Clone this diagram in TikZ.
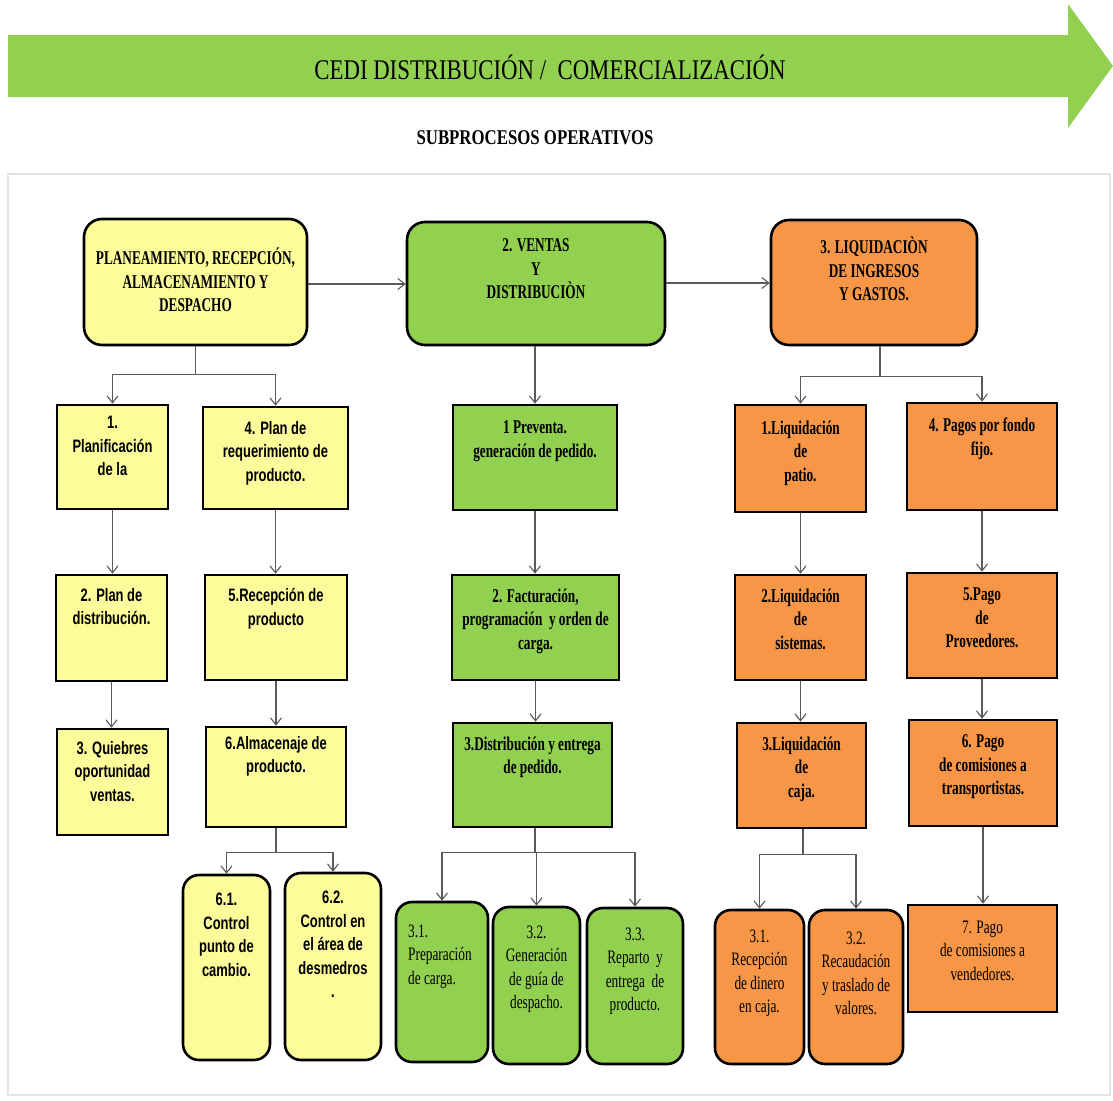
\documentclass[tikz,border=0pt]{standalone}
\usepackage{fontspec}
\usetikzlibrary{arrows.meta}
\setmainfont{Liberation Serif}
\newfontfamily\condserif[FakeStretch=0.68]{Liberation Serif}
\newfontfamily\plainserif[FakeStretch=0.7]{Liberation Serif}
\newfontfamily\titleserif[FakeStretch=0.8]{Liberation Serif}
\newfontfamily\condsans[FakeStretch=0.72]{Liberation Sans}
\definecolor{fyellow}{HTML}{FDFC9A}
\definecolor{fgreen}{HTML}{92D050}
\definecolor{forange}{HTML}{F79646}
\definecolor{lineg}{HTML}{5A5A5A}
\tikzset{
  box/.style={draw=black, line width=2.6pt, inner sep=0pt, minimum width=#1},
  rbox/.style={box=#1, rounded corners=16pt},
  conn/.style={draw=lineg, line width=1.1pt, -{Straight Barb[length=7pt,width=11pt]}},
  lbl/.style={anchor=north, align=center, inner sep=0pt, yshift=-3pt,
    font=\condserif\bfseries\fontsize{19.5}{23.5}\selectfont},
  slbl/.style={anchor=north, align=center, inner sep=0pt, yshift=-3.5pt,
    font=\condsans\bfseries\fontsize{18}{23.5}\selectfont},
  plbl/.style={anchor=north, align=center, inner sep=0pt, yshift=-3pt,
    font=\plainserif\fontsize{19}{23.5}\selectfont},
}
\begin{document}
\begin{tikzpicture}[x=1pt,y=-1pt]
\useasboundingbox (0,0) rectangle (1113,1100);
\fill[white] (0,0) rectangle (1113,1100);

% banner arrow
\fill[fgreen] (8,35) -- (1068,35) -- (1068,4) -- (1113,66) -- (1068,128) -- (1068,97) -- (8,97) -- cycle;
\node[font=\titleserif\fontsize{28.5}{32}\selectfont, inner sep=0pt] (title) at (550,67) {CEDI\ DISTRIBUCIÓN /\ \ COMERCIALIZACIÓN};
\node[font=\titleserif\bfseries\fontsize{21}{24}\selectfont, inner sep=0pt] (sub) at (535,138) {SUBPROCESOS OPERATIVOS};

% frame
\draw[gray!22, line width=1.6pt] (8,174) rectangle (1110,1095);

% main processes
\node[rbox=223pt, minimum height=126pt, fill=fyellow, rounded corners=18pt] (A) at (195.5,282) {};
\node[rbox=258pt, minimum height=123pt, fill=fgreen, rounded corners=18pt] (B) at (536,283.5) {};
\node[rbox=206pt, minimum height=125pt, fill=forange, rounded corners=18pt] (C) at (874,282.5) {};
\node[lbl] (tA) at ([yshift=-27pt]A.north) {PLANEAMIENTO, RECEPCIÓN,\\ALMACENAMIENTO Y\\DESPACHO};
\node[lbl] (tB) at ([yshift=-15pt]B.north) {2. VENTAS\\Y\\DISTRIBUCIÒN};
\node[lbl] (tC) at ([yshift=-15pt]C.north) {3. LIQUIDACIÒN\\DE INGRESOS\\Y GASTOS.};

% planning column
\node[box=111pt, minimum height=104pt, fill=fyellow] (l1) at (112.5,457) {};
\node[box=145pt, minimum height=102pt, fill=fyellow] (l4) at (275.5,458) {};
\node[box=111pt, minimum height=106pt, fill=fyellow] (l2) at (111.5,628) {};
\node[box=111pt, minimum height=106pt, fill=fyellow] (l3) at (112.5,782) {};
\node[box=142pt, minimum height=105pt, fill=fyellow] (l5) at (276,627.5) {};
\node[box=140pt, minimum height=100pt, fill=fyellow] (l6) at (276,777) {};
\node[rbox=87pt, minimum height=185pt, fill=fyellow] (l61) at (226.5,967.5) {};
\node[rbox=96pt, minimum height=187pt, fill=fyellow] (l62) at (333,966.5) {};
\node[slbl] (tl1) at ([yshift=-9pt]l1.north) {1.\\Planificación\\de la};
\node[slbl] (tl4) at ([yshift=-12pt]l4.north) {4. Plan de\\requerimiento de\\producto.};
\node[slbl] (tl2) at ([yshift=-11pt]l2.north) {2. Plan de\\distribución.};
\node[slbl] (tl3) at ([yshift=-10pt]l3.north) {3. Quiebres\\oportunidad\\ventas.};
\node[slbl] (tl5) at ([yshift=-11pt]l5.north) {5.Recepción de\\producto};
\node[slbl] (tl6) at ([yshift=-7pt]l6.north) {6.Almacenaje de\\producto.};
\node[slbl] (tl61) at ([yshift=-16pt]l61.north) {6.1.\\Control\\punto de\\cambio.};
\node[slbl] (tl62) at ([yshift=-16pt]l62.north) {6.2.\\Control en\\el área de\\desmedros\\.};

% sales column
\node[box=164pt, minimum height=105pt, fill=fgreen] (m1) at (535,457.5) {};
\node[box=167pt, minimum height=105pt, fill=fgreen] (m2) at (535.5,627.5) {};
\node[box=159pt, minimum height=104pt, fill=fgreen] (m3) at (532.5,775) {};
\node[rbox=92pt, minimum height=160pt, fill=fgreen] (m31) at (442,982) {};
\node[rbox=87pt, minimum height=157pt, fill=fgreen] (m32) at (536.5,985.5) {};
\node[rbox=96pt, minimum height=156pt, fill=fgreen] (m33) at (635,986) {};
\node[lbl] (tm1) at ([yshift=-14pt]m1.north) {1 Preventa.\\generación de pedido.};
\node[lbl] (tm2) at ([yshift=-12pt]m2.north) {2. Facturación,\\programación\ \ y orden de\\carga.};
\node[lbl] (tm3) at ([yshift=-12pt]m3.north) {3.Distribución y entrega\\de pedido.};
\node[plbl, align=left, anchor=north west] (tm31) at ([xshift=-34pt,yshift=-21pt]m31.north) {3.1.\\Preparación\\de carga.};
\node[plbl] (tm32) at ([yshift=-17pt]m32.north) {3.2.\\Generación\\de guía de\\despacho.};
\node[plbl] (tm33) at ([yshift=-18pt]m33.north) {3.3.\\Reparto\ \ y\\entrega\ \ de\\producto.};

% settlement column
\node[box=131pt, minimum height=107pt, fill=forange] (r1) at (800.5,458.5) {};
\node[box=131pt, minimum height=105pt, fill=forange] (r2) at (800.5,627.5) {};
\node[box=129pt, minimum height=105pt, fill=forange] (r3) at (801.5,775.5) {};
\node[rbox=89pt, minimum height=154pt, fill=forange] (r31) at (759.5,987) {};
\node[rbox=94pt, minimum height=154pt, fill=forange] (r32) at (856,987) {};
\node[box=150pt, minimum height=107pt, fill=forange] (r4) at (982,456.5) {};
\node[box=150pt, minimum height=105pt, fill=forange] (r5) at (982,625.5) {};
\node[box=148pt, minimum height=106pt, fill=forange] (r6) at (983,773) {};
\node[box=149pt, minimum height=107pt, fill=forange] (r7) at (982.5,958.5) {};
\node[lbl] (tr1) at ([yshift=-14pt]r1.north) {1.Liquidación\\de\\patio.};
\node[lbl] (tr2) at ([yshift=-12pt]r2.north) {2.Liquidación\\de\\sistemas.};
\node[lbl] (tr3) at ([yshift=-12pt]r3.north) {3.Liquidación\\de\\caja.};
\node[plbl] (tr31) at ([yshift=-18pt]r31.north) {3.1.\\Recepción\\de dinero\\en caja.};
\node[plbl] (tr32) at ([yshift=-20pt]r32.north) {3.2.\\Recaudación\\y traslado de\\valores.};
\node[lbl] (tr4) at ([yshift=-13pt]r4.north) {4. Pagos por fondo\\fijo.};
\node[lbl] (tr5) at ([yshift=-13pt]r5.north) {5.Pago\\de\\Proveedores.};
\node[lbl] (tr6) at ([yshift=-13pt]r6.north) {6. Pago\\de comisiones a\\transportistas.};
\node[plbl] (tr7) at ([yshift=-14pt]r7.north) {7. Pago\\de comisiones a\\vendedores.};

% connectors between main processes
\draw[conn] (A.east |- 0,284) -- (B.west |- 0,284);
\draw[conn] (B.east |- 0,283) -- (C.west |- 0,283);

% planning branches
\draw[conn] (A.south) -- ++(0,28) -| (l1.north);
\draw[conn] (A.south) -- ++(0,28) -| (l4.north);
\draw[conn] (l1.south) -- (l1.south |- l2.north);
\draw[conn] (l2.south) -- (l2.south |- l3.north);
\draw[conn] (l4.south) -- (l4.south |- l5.north);
\draw[conn] (l5.south) -- (l5.south |- l6.north);
\draw[conn] (l6.south) -- ++(0,24) -| (l61.north);
\draw[conn] (l6.south) -- ++(0,24) -| (l62.north);

% sales branches
\draw[conn] (B.south -| m1.north) -- (m1.north);
\draw[conn] (m1.south) -- (m1.south |- m2.north);
\draw[conn] (m2.south) -- (m2.south |- m3.north);
\draw[conn] ([xshift=2.5pt]m3.south) -- ++(0,24) -| (m31.north);
\draw[conn] ([xshift=2.5pt]m3.south) -- ++(0,24) -| (m32.north);
\draw[conn] ([xshift=2.5pt]m3.south) -- ++(0,24) -| (m33.north);

% settlement branches
\draw[conn] ([xshift=6pt]C.south) -- ++(0,30) -| (r1.north);
\draw[conn] ([xshift=6pt]C.south) -- ++(0,30) -| (r4.north);
\draw[conn] (r1.south) -- (r1.south |- r2.north);
\draw[conn] (r2.south) -- (r2.south |- r3.north);
\draw[conn] ([xshift=1.5pt]r3.south) -- ++(0,25) -| (r31.north);
\draw[conn] ([xshift=1.5pt]r3.south) -- ++(0,25) -| (r32.north);
\draw[conn] (r4.south) -- (r4.south |- r5.north);
\draw[conn] (r5.south) -- (r5.south |- r6.north);
\draw[conn] (r6.south) -- (r6.south |- r7.north);
\end{tikzpicture}
\end{document}
